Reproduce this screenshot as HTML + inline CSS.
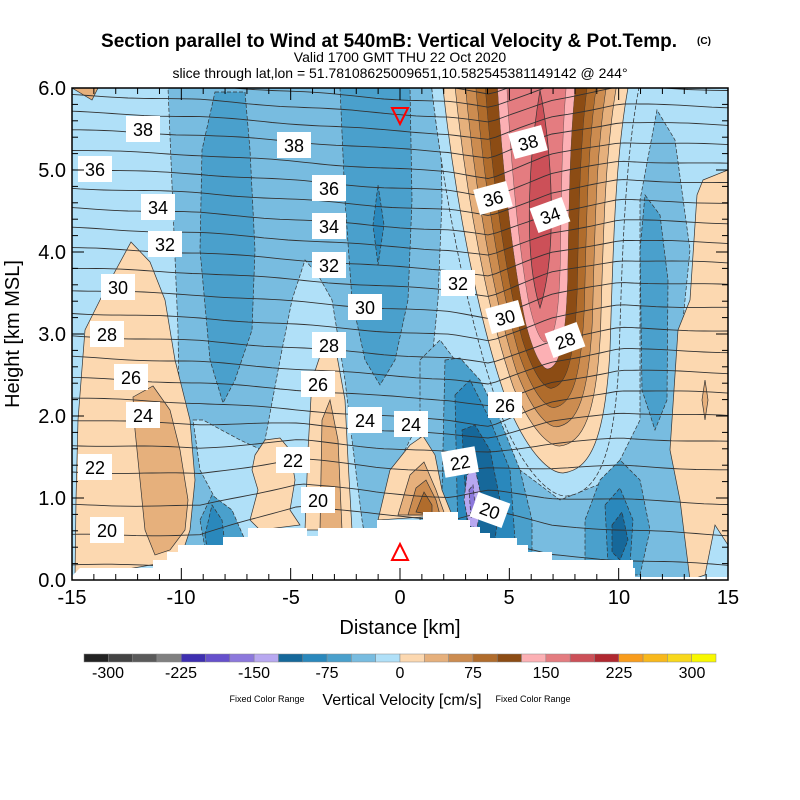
<!DOCTYPE html>
<html><head><meta charset="utf-8"><style>
body{margin:0;background:#fff}
svg{display:block}
text{font-family:"Liberation Sans",sans-serif}
.n{stroke:#333;stroke-width:.7;stroke-dasharray:4 2}
.p{stroke:#333;stroke-width:.7}
</style></head><body>
<svg id="s" width="800" height="800" viewBox="0 0 800 800" xmlns="http://www.w3.org/2000/svg">
<defs>
<clipPath id="c"><rect x="72" y="88" width="656" height="492"/></clipPath>
<path id="U" d="M443,88 C455,200 480,330 510,410 C530,455 550,473 563,473 C590,470 605,440 610,350 C613,250 615,160 628,88 Z"/>
</defs>
<text x="389" y="47" font-size="19" font-weight="bold" text-anchor="middle">Section parallel to Wind at 540mB: Vertical Velocity &amp; Pot.Temp.</text>
<text x="704" y="44" font-size="10" font-weight="bold" text-anchor="middle">(C)</text>
<text x="400" y="62" font-size="14" text-anchor="middle">Valid 1700 GMT THU 22 Oct 2020</text>
<text x="400" y="78" font-size="14" text-anchor="middle">slice through lat,lon = 51.78108625009651,10.582545381149142 @ 244°</text>
<g clip-path="url(#c)">
<rect x="72" y="88" width="656" height="492" fill="#b0e0f8"/>
<path class="n" fill="#78bce0" d="M168,88 L440,88 L442,200 L438,300 L430,380 L415,430 L395,470 L380,540 L170,548 L180,450 L178,330 Z"/>
<path class="n" fill="#b0e0f8" d="M255,580 L265,440 L280,360 L292,300 L305,260 L318,275 L332,300 L345,380 L352,440 L362,520 L372,580 Z"/>
<path class="n" fill="#b0e0f8" d="M193,420 L203,420 L240,440 L262,450 L262,540 L240,545 L200,470 Z"/>
<path class="n" fill="#4aa0cc" d="M215,92 L245,92 L250,150 L255,250 L252,330 L235,380 L223,403 L210,360 L200,250 L202,150 Z"/>
<path class="n" fill="#4aa0cc" d="M340,88 L410,88 L412,200 L408,300 L395,360 L380,385 L365,360 L352,300 L345,200 Z"/>
<path class="n" fill="#2a88bc" d="M378,185 L384,225 L378,265 L373,225 Z"/>
<path class="n" fill="#4aa0cc" d="M200,520 L212,495 L232,510 L245,540 L205,548 Z"/>
<path class="n" fill="#2a88bc" d="M205,535 L212,505 L222,520 L225,545 L207,548 Z"/>
<path class="n" fill="#78bce0" d="M420,360 L440,340 L470,380 L520,470 L560,500 L610,480 L640,420 L640,200 L657,110 L675,140 L690,250 L680,350 L672,440 L680,500 L695,580 L420,580 Z"/>
<use href="#U" fill="#b0e0f8" class="n" transform="translate(537,88) scale(1.12,1.06) translate(-537,-88)"/>
<use href="#U" fill="#fcd8b0" class="p"/>
<use href="#U" fill="#e6b07c" class="p" transform="translate(537,88) scale(.87,.93) translate(-537,-88)"/>
<use href="#U" fill="#cc8c50" class="p" transform="translate(537,88) scale(.76,.88) translate(-537,-88)"/>
<use href="#U" fill="#b06c2c" class="p" transform="translate(537,88) scale(.65,.83) translate(-537,-88)"/>
<use href="#U" fill="#8c4c14" class="p" transform="translate(537,88) scale(.55,.78) translate(-537,-88)"/>
<use href="#U" fill="#fcb0b4" class="p" transform="translate(537,88) scale(.42,.73) translate(-537,-88)"/>
<use href="#U" fill="#e47c80" class="p" transform="translate(537,88) scale(.32,.66) translate(-537,-88)"/>
<path class="p" fill="#cc5058" d="M540,90 C530,150 522,250 540,308 C558,250 552,150 540,90 Z"/>
<path class="n" fill="#4aa0cc" d="M645,195 L660,215 L668,280 L667,400 L655,430 L642,390 L640,250 Z"/>
<path class="n" fill="#4aa0cc" d="M445,360 L460,358 L480,380 L500,420 L520,470 L532,520 L532,580 L440,580 Z"/>
<path class="n" fill="#4aa0cc" d="M600,480 L620,460 L640,480 L650,530 L640,575 L585,575 L585,520 Z"/>
<path class="n" fill="#2a88bc" d="M455,395 L470,380 L490,420 L510,470 L515,540 L490,560 L458,540 Z"/>
<path class="n" fill="#16689a" d="M462,430 L475,425 L490,450 L500,500 L495,540 L468,540 Z"/>
<path class="n" fill="#b8a8f0" d="M467,475 L475,468 L482,500 L477,528 L469,526 L464,500 Z"/>
<path class="n" fill="#8c78dc" d="M469,490 L473,485 L475,505 L471,518 Z"/>
<path class="n" fill="#2a88bc" d="M605,505 L620,488 L633,520 L630,565 L608,565 Z"/>
<path class="n" fill="#16689a" d="M612,525 L622,512 L628,540 L620,560 L612,552 Z"/>
<path class="p" fill="#fcd8b0" d="M703,180 L728,170 L728,545 L715,525 L705,575 L690,580 L680,500 L670,450 L678,330 L690,300 L697,195 Z"/>
<path class="p" fill="#e6b07c" d="M705,380 L708,400 L705,420 L702,400 Z"/>
<path class="p" fill="#e6b07c" d="M72,88 L98,88 L92,100 Z"/>
<path class="p" fill="#fcd8b0" d="M75,578 L76,500 78,420 85,330 105,290 131,242 150,262 165,300 175,360 190,420 195,480 190,530 180,560 Z"/>
<path class="p" fill="#e6b07c" d="M133,397 L153,386 170,410 180,450 188,500 185,530 170,550 155,555 145,530 140,480 135,430 Z"/>
<path class="p" fill="#fcd8b0" d="M305,530 L308,450 L312,380 L322,350 L335,345 L345,400 L348,460 L352,530 Z"/>
<path class="p" fill="#e6b07c" d="M322,420 L330,400 L338,440 L342,530 L320,530 Z"/>
<path class="p" fill="#fcd8b0" d="M255,455 L265,440 L280,438 L290,450 L295,480 L290,510 L300,525 L260,530 L250,520 L258,490 L252,470 Z"/>
<path class="p" fill="#fcd8b0" d="M378,520 L390,470 L410,445 L423,436 L435,455 L442,490 L452,515 Z"/>
<path class="p" fill="#e6b07c" d="M398,515 L410,475 L424,462 L436,490 L445,515 Z"/>
<path class="p" fill="#cc8c50" d="M408,515 L416,488 L426,480 L436,500 L440,515 Z"/>
<path class="p" fill="#b06c2c" d="M416,512 L424,492 L432,505 L432,515 Z"/>
<g id="iso" fill="none" stroke="#333" stroke-width="0.9"></g>
<path fill="#fff" d="M72,580 L72,576 L80,568 L153,568 L153,560 L167,560 L167,552 L178,552 L178,545 L223,545 L223,537 L248,537 L248,528 L307,528 L307,536 L318,536 L318,528 L377,528 L377,520 L423,520 L423,512 L458,512 L458,520 L470,520 L470,527 L480,527 L480,533 L490,533 L490,538 L517,538 L517,545 L528,545 L528,552 L552,552 L552,560 L633,560 L633,568 L635,568 L635,577 L728,577 L728,580 Z"/>
</g>
<path d="M392,108 L408,108 L400,124 Z" fill="none" stroke="#f00" stroke-width="2"/>
<path d="M392,560 L408,560 L400,544 Z" fill="none" stroke="#f00" stroke-width="2"/>
<g font-size="18" text-anchor="middle" id="lbl"></g>
<rect x="72" y="88" width="656" height="492" fill="none" stroke="#000" stroke-width="1.5"/>
<g id="ticks" stroke="#000" stroke-width="1"></g>
<g font-size="20" text-anchor="middle">
<text x="72" y="604">-15</text><text x="181" y="604">-10</text><text x="291" y="604">-5</text><text x="400" y="604">0</text><text x="509" y="604">5</text><text x="619" y="604">10</text><text x="728" y="604">15</text>
</g>
<g font-size="20" text-anchor="end">
<text x="66" y="587">0.0</text><text x="66" y="505">1.0</text><text x="66" y="423">2.0</text><text x="66" y="341">3.0</text><text x="66" y="259">4.0</text><text x="66" y="177">5.0</text><text x="66" y="95">6.0</text>
</g>
<text x="400" y="634" font-size="20" text-anchor="middle">Distance [km]</text>
<text transform="translate(19,334) rotate(-90)" font-size="20" text-anchor="middle">Height [km MSL]</text>
<g id="cb"></g>
<g font-size="16" text-anchor="middle">
<text x="108" y="678">-300</text><text x="181" y="678">-225</text><text x="254" y="678">-150</text><text x="327" y="678">-75</text><text x="400" y="678">0</text><text x="473" y="678">75</text><text x="546" y="678">150</text><text x="619" y="678">225</text><text x="692" y="678">300</text>
</g>
<text x="267" y="702" font-size="9" text-anchor="middle">Fixed Color Range</text>
<text x="402" y="705" font-size="16" text-anchor="middle">Vertical Velocity [cm/s]</text>
<text x="533" y="702" font-size="9" text-anchor="middle">Fixed Color Range</text>
</svg>
<script>
(function(){
var NS="http://www.w3.org/2000/svg";
function el(t,a,p){var e=document.createElementNS(NS,t);for(var k in a)e.setAttribute(k,a[k]);p.appendChild(e);return e;}
var base={19:565,20:535,21:505,22:472,23:445,24:420,25:398,26:378,27:357,28:336,29:313,30:290,31:268,32:248,33:228,34:208,35:188,36:169,37:150,38:130,39:112,40:95,41:80,42:66};
var xs=[72,200,300,380,450,490,550,620,728];
var up=[0,5,12,18,22,28,5,-8,-5];
var lo=[0,0,-30,-20,-15,-25,-10,-5,0];
function itp(a,x){for(var i=0;i<xs.length-1;i++){if(x<=xs[i+1]){var f=(x-xs[i])/(xs[i+1]-xs[i]);return a[i]+(a[i+1]-a[i])*f;}}return a[a.length-1];}
var g=document.getElementById("iso");
for(var th=19;th<=42;th++){var w=Math.max(0,Math.min(1,(th-20)/5));var pts=[];
for(var x=72;x<=728;x+=8){var y=base[th]+itp(lo,x)*(1-w)+itp(up,x)*w+0.8*Math.sin(x/23+th);pts.push(x+","+y.toFixed(1));}
el("polyline",{points:pts.join(" ")},g);}
var L=document.getElementById("lbl");
var lab=[[143,129,"38",0],[95,169,"36",0],[158,207,"34",0],[165,244,"32",0],[118,287,"30",0],[107,334,"28",0],[131,377,"26",0],[143,415,"24",0],[95,467,"22",0],[107,530,"20",0],
[294,145,"38",0],[329,188,"36",0],[329,226,"34",0],[329,265,"32",0],[365,307,"30",0],[329,345,"28",0],[318,384,"26",0],[365,420,"24",0],[293,460,"22",0],[318,500,"20",0],
[411,424,"24",0],[458,283,"32",0],[493,198,"36",-15],[528,142,"38",-15],[550,215,"34",-20],[505,317,"30",-15],[565,340,"28",-20],[505,405,"26",0],[460,462,"22",-10],[490,510,"20",20]];
lab.forEach(function(l){var gg=el("g",{transform:"translate("+l[0]+","+l[1]+") rotate("+l[3]+")"},L);
el("rect",{x:-17,y:-13,width:34,height:26,fill:"#fff"},gg);var t=el("text",{x:0,y:7},gg);t.textContent=l[2];});
var T=document.getElementById("ticks");var kx=656/30,ky=82;
for(var i=0;i<=30;i++){var x=72+i*kx,m=(i%5==0)?12:6;el("line",{x1:x,y1:580,x2:x,y2:580-m},T);el("line",{x1:x,y1:88,x2:x,y2:88+m},T);}
for(var j=0;j<=30;j++){var y=580-j*ky/5,m=(j%5==0)?12:6;el("line",{x1:72,y1:y,x2:72+m,y2:y},T);el("line",{x1:728,y1:y,x2:728-m,y2:y},T);}
var C=["#222","#444","#5a5a5a","#808080","#3e2fb0","#6650cc","#8c78dc","#b8a8f0","#16689a","#2a88bc","#4aa0cc","#78bce0","#b0e0f8","#fcd8b0","#e6b07c","#cc8c50","#b06c2c","#8c4c14","#fcb0b4","#e47c80","#cc5058","#b02830","#f89c1c","#f8b81c","#f8d81c","#f8f800"];
var cb=document.getElementById("cb");var bw=632/26;
C.forEach(function(c,i){el("rect",{x:84+i*bw,y:654,width:bw,height:8,fill:c,stroke:"#888","stroke-width":0.5},cb);});
})();
</script>
</body></html>
